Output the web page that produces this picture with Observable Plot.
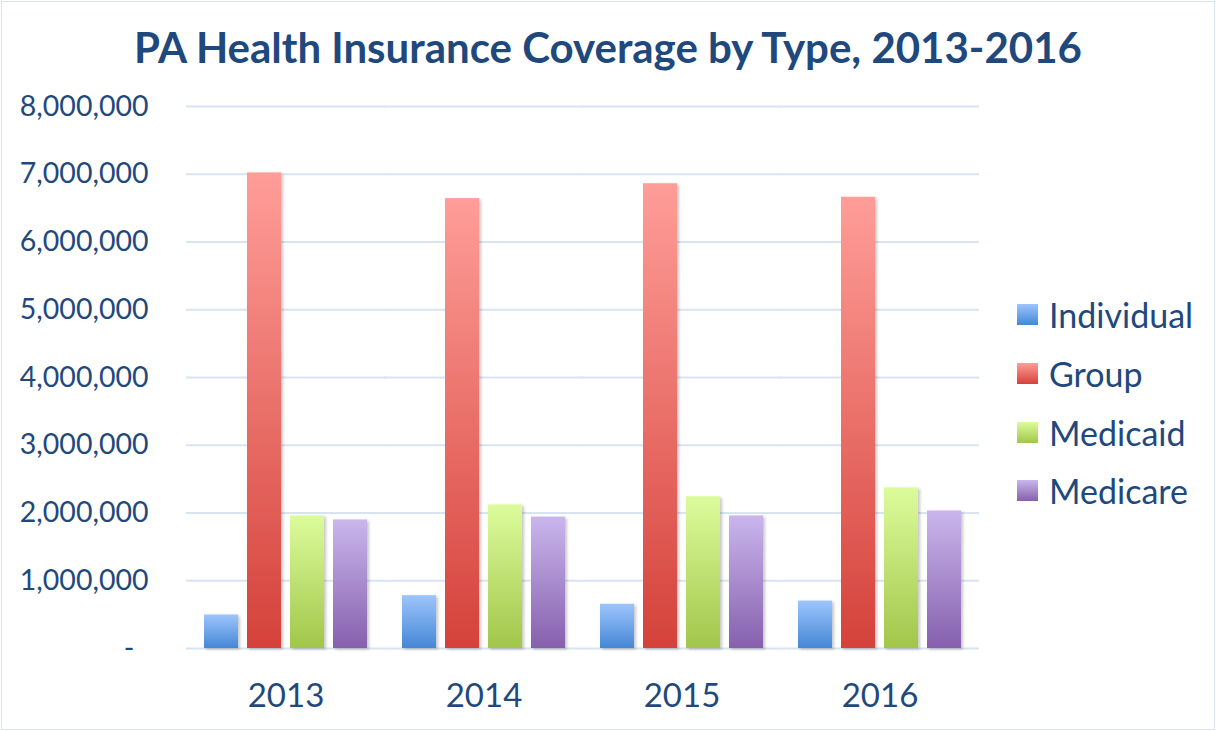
<!DOCTYPE html>
<html>
<head>
<meta charset="utf-8">
<script src="https://cdn.jsdelivr.net/npm/d3@7"></script>
<script src="https://cdn.jsdelivr.net/npm/@observablehq/plot@0.6"></script>
<style>
  body { margin: 0; background: #fff; }
  #wrap { position: relative; width: 1216px; height: 731px; overflow: hidden; font-family: Lato, "Open Sans", sans-serif; color: #1f497d; background: #fff; }
  #border { position: absolute; left: 1px; top: 1px; right: 1px; bottom: 1px; border: 1.5px solid #dae5f3; box-sizing: border-box; pointer-events: none; }
  #title { position: absolute; left: 0; top: 26px; width: 1216px; text-align: center; font-weight: 700; font-size: 42px; line-height: 42px; white-space: nowrap; }
  #chart { position: absolute; left: 0; top: 90px; }
  #legend { position: absolute; left: 1017px; top: 0; }
  .item { position: absolute; left: 0; height: 40px; display: flex; align-items: center; white-space: nowrap; font-size: 34px; }
  .sw { width: 21px; height: 21px; margin-right: 11px; flex: none; }
</style>
</head>
<body>
<svg width="0" height="0" style="position:absolute">
  <defs id="defs"></defs>
</svg>
<div id="wrap">
  <div id="title">PA Health Insurance Coverage by Type, 2013-2016</div>
  <div id="chart"></div>
  <div id="legend"></div>
  <div id="border"></div>
</div>
<script>
const years = ["2013", "2014", "2015", "2016"];
const types = ["Individual", "Group", "Medicaid", "Medicare"];
const individual = [495000, 780000, 653000, 700000];
const group = [7020000, 6640000, 6860000, 6660000];
const medicaid = [1957000, 2120000, 2240000, 2370000];
const medicare = [1898000, 1940000, 1957000, 2030000];
const yTicks = [0, 1000000, 2000000, 3000000, 4000000, 5000000, 6000000, 7000000, 8000000];

const gradTop = ["#9dc5fc", "#ff9d98", "#dcfc9c", "#cab6ed"];
const gradBottom = ["#4587d6", "#d4423a", "#a1c64a", "#8660ad"];

const series = [individual, group, medicaid, medicare];
const data = [];
years.forEach((year, i) => {
  types.forEach((type, j) => data.push({year, type, value: series[j][i]}));
});

// gradients + shadow filter
const defs = d3.select("#defs");
types.forEach((t, i) => {
  const g = defs.append("linearGradient").attr("id", "g" + i)
    .attr("x1", 0).attr("y1", 0).attr("x2", 0).attr("y2", 1);
  g.append("stop").attr("offset", "0%").attr("stop-color", gradTop[i]);
  g.append("stop").attr("offset", "100%").attr("stop-color", gradBottom[i]);
});
const f = defs.append("filter").attr("id", "shadow")
  .attr("x", "-20%").attr("y", "-5%").attr("width", "150%").attr("height", "120%");
f.append("feDropShadow").attr("dx", 2).attr("dy", 1.5).attr("stdDeviation", 1.6)
  .attr("flood-color", "#000").attr("flood-opacity", 0.22);

const fmt = d3.format(",");
const chart = Plot.plot({
  width: 1000,
  height: 638,
  marginLeft: 185,
  marginRight: 21,
  marginTop: 16,
  marginBottom: 80,
  style: {fontFamily: "Lato, 'Open Sans', sans-serif", color: "#1f497d", background: "transparent", overflow: "visible"},
  fx: {domain: years, paddingInner: 0.177, paddingOuter: 0.09, label: null},
  x: {domain: types, paddingInner: 0.21, paddingOuter: 0, axis: null},
  y: {domain: [0, 8000000], label: null},
  color: {domain: types, range: types.map((t, i) => `url(#g${i})`)},
  marks: [
    Plot.ruleY(yTicks, {stroke: "#d9e4f2", strokeWidth: 2, insetLeft: -18, insetRight: -18}),
    Plot.barY(data, {fx: "year", x: "type", y: "value", fill: "type"}),
    Plot.axisY({ticks: yTicks, tickFormat: d => d === 0 ? "-\u2002" : fmt(d), tickSize: 0, tickPadding: 56, fontSize: 28.5, label: null}),
    Plot.axisFx({anchor: "bottom", tickSize: 0, tickPadding: 35, fontSize: 33, label: null})
  ]
});
document.getElementById("chart").appendChild(chart);
d3.select(chart).selectAll('g[aria-label="bar"]').attr("filter", "url(#shadow)");

// legend
const legend = d3.select("#legend");
const centers = [314, 373, 432, 490];
types.forEach((t, i) => {
  const it = legend.append("div").attr("class", "item").style("top", (centers[i] - 20) + "px");
  it.append("div").attr("class", "sw").style("background", `linear-gradient(${gradTop[i]}, ${gradBottom[i]})`);
  it.append("span").text(t);
});
</script>
</body>
</html>
